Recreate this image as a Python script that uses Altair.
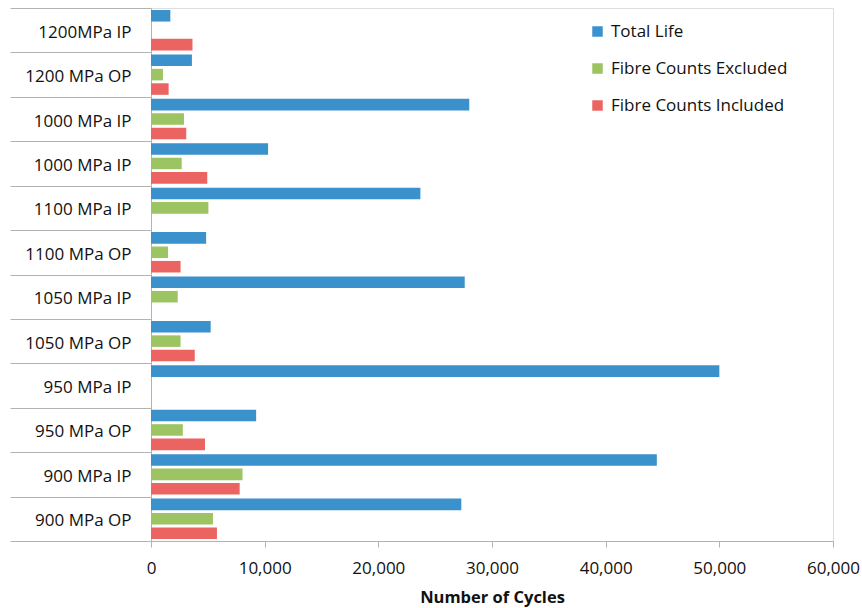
import altair as alt
import pandas as pd

categories = ["1200MPa IP", "1200 MPa OP", "1000 MPa IP", "1000 MPa IP", "1100 MPa IP",
              "1100 MPa OP", "1050 MPa IP", "1050 MPa OP", "950 MPa IP", "950 MPa OP",
              "900 MPa IP", "900 MPa OP"]
series = ["Total Life", "Fibre Counts Excluded", "Fibre Counts Included"]
total_life = [1700, 3600, 28000, 10300, 23700, 4850, 27600, 5250, 50000, 9250, 44500, 27300]
excluded = [None, 1050, 2900, 2700, 5050, 1500, 2350, 2600, None, 2800, 8050, 5450]
included = [3650, 1550, 3100, 4950, None, 2600, None, 3850, None, 4750, 7800, 5800]
colors = ["#3a91cb", "#9cc462", "#eb6461"]
x_ticks = [0, 10000, 20000, 30000, 40000, 50000, 60000]

rows = []
keys = []
for i, c in enumerate(categories):
    key = f"{c}#{i}"
    keys.append(key)
    for s, vals in zip(series, [total_life, excluded, included]):
        v = vals[i]
        if v is not None:
            rows.append({"key": key, "series": s, "value": v})
df = pd.DataFrame(rows)

FONT = "Open Sans"
AXIS_COLOR = "#b3b3b3"
FS = 17

chart = alt.Chart(df).mark_bar().encode(
    x=alt.X("value:Q",
            scale=alt.Scale(domain=[0, 60000], nice=False),
            axis=alt.Axis(values=x_ticks, format=",d", title="Number of Cycles",
                          grid=False, domainColor=AXIS_COLOR, tickColor=AXIS_COLOR,
                          tickSize=6, labelPadding=13, labelFontSize=FS, labelColor="#111",
                          labelFont=FONT, titleFont=FONT, titleFontSize=16.5,
                          titleFontWeight="bold", titleColor="#111", titlePadding=13,
                          labelFlush=False)),
    y=alt.Y("key:N", sort=keys,
            scale=alt.Scale(paddingInner=0, paddingOuter=0),
            axis=alt.Axis(title=None, tickBand="extent", tickSize=141,
                          labelPadding=-121, domainColor=AXIS_COLOR, tickColor=AXIS_COLOR,
                          labelExpr="split(datum.label, '#')[0]", labelOffset=2,
                          labelFontSize=FS, labelFont=FONT, labelColor="#111")),
    yOffset=alt.YOffset("series:N", sort=series,
                        scale=alt.Scale(paddingInner=0.2, paddingOuter=0.14)),
    color=alt.Color("series:N", sort=series,
                    scale=alt.Scale(domain=series, range=colors),
                    legend=alt.Legend(title=None, orient="none", legendX=438, legendY=15,
                                      symbolType="square", symbolSize=110,
                                      symbolStrokeWidth=0, labelFontSize=FS,
                                      labelFont=FONT, labelColor="#111", labelLimit=0,
                                      rowPadding=19, labelOffset=5)),
).properties(
    width=682, height=533,
    autosize=alt.AutoSizeParams(type="none"),
    padding={"left": 151, "top": 8, "right": 29, "bottom": 67},
).configure_view(
    stroke=AXIS_COLOR, strokeWidth=1
).configure(background="white")

chart.save("out.html", embed_options={"renderer": "svg", "actions": False})
